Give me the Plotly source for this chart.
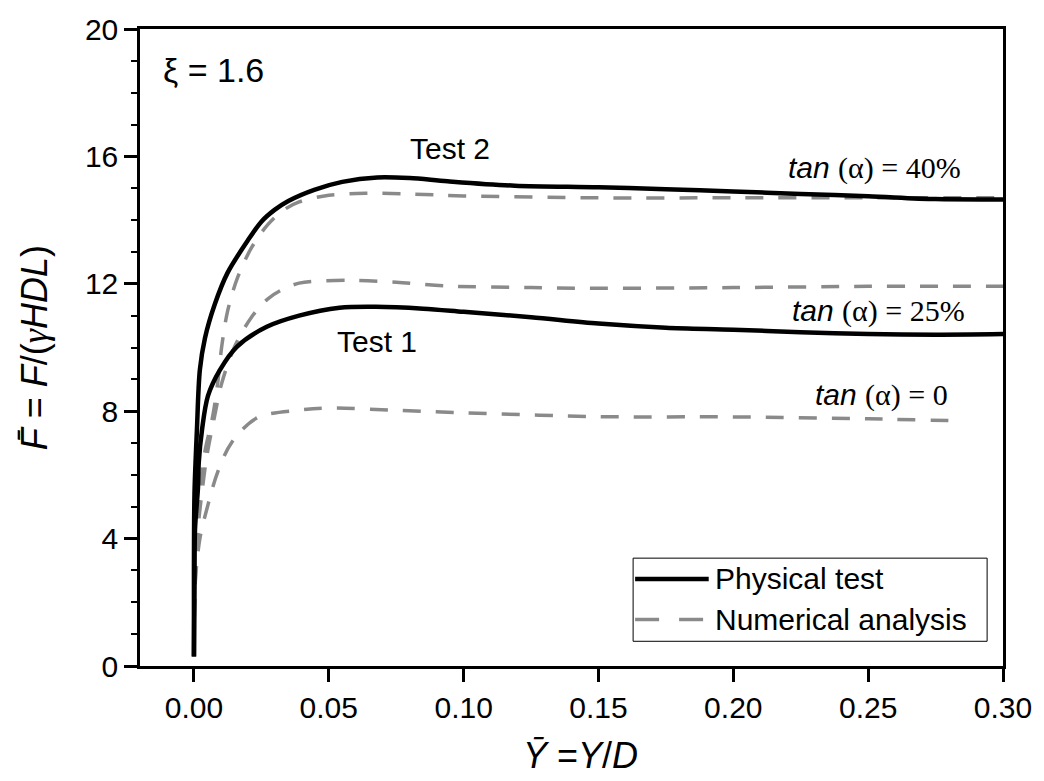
import plotly.graph_objects as go

# ---- data ----
test2_x = [0.0, 0.0, 0.0002, 0.0011, 0.0022, 0.0041, 0.0077, 0.0125, 0.0199, 0.025, 0.0299, 0.035,
           0.0446, 0.055, 0.068, 0.08, 0.094, 0.119, 0.15, 0.175, 0.2, 0.225, 0.25, 0.275, 0.3]
test2_y = [0.3, 3.0, 5.4, 7.4, 9.3, 10.3, 11.35, 12.35, 13.35, 13.95, 14.32, 14.6,
           14.95, 15.2, 15.34, 15.32, 15.22, 15.08, 15.03, 14.97, 14.9, 14.82, 14.75, 14.66, 14.65]

test1_x = [0.0, 0.0002, 0.0004, 0.0015, 0.0018, 0.003, 0.0052, 0.0096, 0.016, 0.027, 0.039, 0.054,
           0.0675, 0.085, 0.1, 0.125, 0.15, 0.175, 0.2, 0.225, 0.25, 0.275, 0.3]
test1_y = [0.3, 2.5, 4.3, 5.6, 6.4, 7.42, 8.48, 9.29, 10.03, 10.65, 11.0, 11.25,
           11.28, 11.22, 11.12, 10.95, 10.75, 10.62, 10.56, 10.48, 10.42, 10.4, 10.42]

num40_x = [0.0, 0.0002, 0.0004, 0.0011, 0.0022, 0.004, 0.007, 0.0088, 0.0103, 0.0125, 0.0162, 0.0214,
           0.0273, 0.033, 0.039, 0.05, 0.064, 0.08, 0.1, 0.15, 0.2, 0.25, 0.3]
num40_y = [0.5, 2.0, 3.5, 4.44, 5.56, 6.7, 7.86, 8.88, 10.03, 11.15, 12.2, 13.14,
           13.85, 14.3, 14.57, 14.78, 14.84, 14.82, 14.76, 14.7, 14.7, 14.7, 14.7]

num25_x = [0.0, 0.0004, 0.0015, 0.003, 0.0048, 0.0077, 0.0103, 0.0151, 0.0214, 0.0273, 0.0324, 0.039,
           0.0575, 0.075, 0.094, 0.125, 0.15, 0.2, 0.25, 0.3]
num25_y = [0.5, 2.5, 4.3, 5.47, 6.6, 7.86, 8.88, 10.03, 10.96, 11.52, 11.8, 12.02,
           12.11, 12.05, 11.93, 11.88, 11.86, 11.88, 11.92, 11.92]

num0_x = [0.0, 0.0004, 0.0022, 0.0052, 0.0088, 0.014, 0.0236, 0.0398, 0.05, 0.075, 0.1, 0.15,
          0.2, 0.25, 0.283]
num0_y = [0.5, 2.5, 4.0, 5.06, 6.09, 7.02, 7.8, 8.04, 8.1, 8.03, 7.95, 7.83,
          7.82, 7.76, 7.7]

x_ticks = [0.0, 0.05, 0.10, 0.15, 0.20, 0.25, 0.30]
x_ticklabels = ["0.00", "0.05", "0.10", "0.15", "0.20", "0.25", "0.30"]
y_ticks = [0, 4, 8, 12, 16, 20]

FONT = "Liberation Sans, Arial, sans-serif"
SERIF = "'Liberation Serif'"
GRAY = "#8a8a8a"
DASH = "18px,15px"

fig = go.Figure()

for xs, ys in [(num40_x, num40_y), (num25_x, num25_y), (num0_x, num0_y)]:
    fig.add_trace(go.Scatter(x=xs, y=ys, mode="lines", showlegend=False,
                             line=dict(color=GRAY, width=3.5, dash=DASH, shape="spline", smoothing=0.9)))
for xs, ys in [(test2_x, test2_y), (test1_x, test1_y)]:
    fig.add_trace(go.Scatter(x=xs, y=ys, mode="lines", showlegend=False,
                             line=dict(color="black", width=4.5, shape="spline", smoothing=0.9)))

# text annotations
def tan_text(val):
    return f"<i>tan</i> <span style=\"font-family:{SERIF}\">(α) = {val}</span>"

annots = [
    dict(x=0.2853, y=15.65, xref="x", yref="y", text=tan_text("40%"), xanchor="right", yanchor="middle"),
    dict(x=0.2868, y=11.15, xref="x", yref="y", text=tan_text("25%"), xanchor="right", yanchor="middle"),
    dict(x=0.2805, y=8.51, xref="x", yref="y", text=tan_text("0"), xanchor="right", yanchor="middle"),
    dict(x=0.0951, y=16.24, xref="x", yref="y", text="Test 2", xanchor="center", yanchor="middle"),
    dict(x=0.0678, y=10.19, xref="x", yref="y", text="Test 1", xanchor="center", yanchor="middle"),
    dict(x=0.024, y=0.936, xref="paper", yref="paper", text="ξ = 1.6", xanchor="left", yanchor="middle",
         font=dict(size=34, color="black", family=FONT)),
    # axis titles
    dict(x=-0.122, y=0.5, xref="paper", yref="paper", textangle=-90,
         text=f"<i>F̄</i> = <i>F</i>/(<span style=\"font-family:{SERIF}\"><i>γ</i></span><i>HDL</i>)",
         xanchor="center", yanchor="middle",
         font=dict(size=36, color="black", family=FONT)),
    dict(x=0.51, y=-0.14, xref="paper", yref="paper",
         text="<i>Ȳ</i> =<i>Y</i>/<i>D</i>", xanchor="center", yanchor="middle",
         font=dict(size=36, color="black", family=FONT)),
    # legend text
    dict(x=0.664, y=0.1366, xref="paper", yref="paper", text="Physical test", xanchor="left", yanchor="middle",
         font=dict(size=30, color="black", family=FONT)),
    dict(x=0.664, y=0.073, xref="paper", yref="paper", text="Numerical analysis", xanchor="left", yanchor="middle",
         font=dict(size=30, color="black", family=FONT)),
]
for a in annots:
    a.setdefault("font", dict(size=30, color="black", family=FONT))
    a["showarrow"] = False
    fig.add_annotation(**a)

# custom legend
fig.add_shape(type="rect", xref="paper", yref="paper", x0=0.5714, x1=0.9816, y0=0.0388, y1=0.1693,
              line=dict(color="black", width=1), fillcolor="white", layer="below")
fig.add_shape(type="line", xref="paper", yref="paper", x0=0.5737, x1=0.659, y0=0.1366, y1=0.1366,
              line=dict(color="black", width=4.5))
fig.add_shape(type="line", xref="paper", yref="paper", x0=0.5737, x1=0.659, y0=0.073, y1=0.073,
              line=dict(color=GRAY, width=3.5, dash="24px,20px"))

fig.update_layout(
    width=1044, height=781,
    margin=dict(l=140, r=36, t=22, b=115),
    paper_bgcolor="white", plot_bgcolor="white",
    font=dict(family=FONT, size=30, color="black"),
    showlegend=False,
)
fig.update_xaxes(range=[-0.02, 0.30], tickvals=x_ticks, ticktext=x_ticklabels,
                 showgrid=False, zeroline=False, showline=True, mirror=True,
                 linecolor="black", linewidth=2.5, ticks="outside", ticklen=13, tickwidth=2.5,
                 tickcolor="black", tickfont=dict(size=30, family=FONT, color="black"))
fig.update_yaxes(range=[0, 20], tickvals=y_ticks,
                 showgrid=False, zeroline=False, showline=True, mirror=True,
                 linecolor="black", linewidth=2.5, ticks="outside", ticklen=13, tickwidth=2.5,
                 tickcolor="black", tickfont=dict(size=30, family=FONT, color="black"),
                 minor=dict(dtick=1, ticks="outside", ticklen=6, tickwidth=2, tickcolor="black"))

fig.write_html("out.html")
